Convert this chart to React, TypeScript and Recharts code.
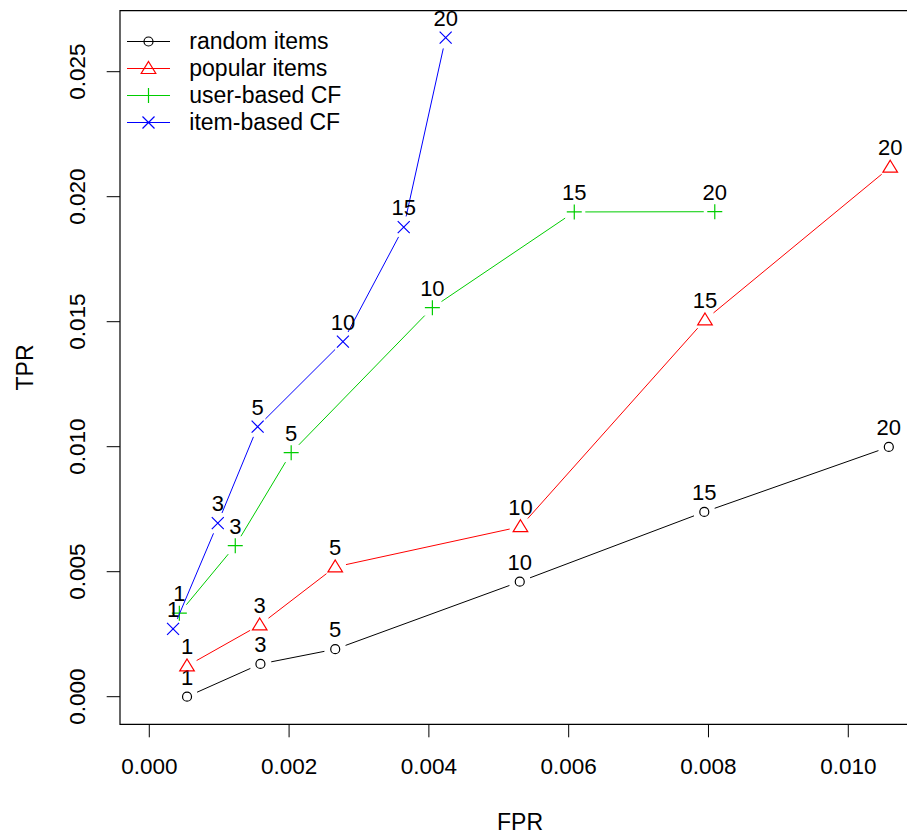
import React from "react";
import { LineChart, Line, XAxis, YAxis, ReferenceArea } from "recharts";

// cutoff n shown above each point
const cutoffs = [1, 3, 5, 10, 15, 20];

const randomFPR = [0.00054, 0.00159, 0.00266, 0.0053, 0.00794, 0.01058];
const randomTPR = [0.0, 0.00131, 0.0019, 0.0046, 0.00739, 0.00999];

const popularFPR = [0.00054, 0.00158, 0.00266, 0.00531, 0.00795, 0.0106];
const popularTPR = [0.00123, 0.00287, 0.00519, 0.0068, 0.01507, 0.02118];

const userFPR = [0.00043, 0.00123, 0.00203, 0.00405, 0.00608, 0.00809];
const userTPR = [0.00334, 0.00604, 0.00976, 0.01556, 0.01939, 0.0194];

const itemFPR = [0.00034, 0.00098, 0.00155, 0.00277, 0.00364, 0.00424];
const itemTPR = [0.00271, 0.00694, 0.0108, 0.0142, 0.01878, 0.02636];

const xTicks = [0, 0.002, 0.004, 0.006, 0.008, 0.01];
const yTicks = [0, 0.005, 0.01, 0.015, 0.02, 0.025];
const xDomain = [-0.000419, 0.011026];
const yDomain = [-0.001104, 0.02744];

const FONT = '"Liberation Sans", Arial, sans-serif';

type Kind = "circle" | "triangle" | "plus" | "cross";

const toRows = (fpr: number[], tpr: number[]) =>
  fpr.map((f, i) => ({ fpr: f, tpr: tpr[i], n: cutoffs[i] }));

const SERIES: { name: string; color: string; kind: Kind; data: any[] }[] = [
  { name: "random items", color: "#000000", kind: "circle", data: toRows(randomFPR, randomTPR) },
  { name: "popular items", color: "#FF0000", kind: "triangle", data: toRows(popularFPR, popularTPR) },
  { name: "user-based CF", color: "#00CD00", kind: "plus", data: toRows(userFPR, userTPR) },
  { name: "item-based CF", color: "#0000FF", kind: "cross", data: toRows(itemFPR, itemTPR) },
];

function Marker({ kind, x, y, color }: { kind: Kind; x: number; y: number; color: string }) {
  const common = { fill: "none", stroke: color, strokeWidth: 1.2 };
  if (kind === "circle") return <circle cx={x} cy={y} r={4.5} {...common} />;
  if (kind === "triangle")
    return <path d={`M${x},${y - 7}L${x + 7.3},${y + 5}L${x - 7.3},${y + 5}Z`} {...common} />;
  if (kind === "plus")
    return <path d={`M${x - 7.5},${y}H${x + 7.5}M${x},${y - 7.5}V${y + 7.5}`} {...common} />;
  return <path d={`M${x - 6},${y - 6}L${x + 6},${y + 6}M${x - 6},${y + 6}L${x + 6},${y - 6}`} {...common} />;
}

// R type="b": segments stop short of each symbol
const GAP = 11;

const makeDot = (color: string, kind: Kind) => (props: any) => {
  const { cx, cy, index, points, payload } = props;
  let seg = null;
  if (points && index < points.length - 1) {
    const q = points[index + 1];
    const dx = q.x - cx;
    const dy = q.y - cy;
    const d = Math.sqrt(dx * dx + dy * dy);
    if (d > 2 * GAP) {
      const k = GAP / d;
      seg = (
        <line
          x1={cx + dx * k}
          y1={cy + dy * k}
          x2={q.x - dx * k}
          y2={q.y - dy * k}
          stroke={color}
          strokeWidth={1}
        />
      );
    }
  }
  return (
    <g key={`dot-${kind}-${index}`}>
      {seg}
      <Marker kind={kind} x={cx} y={cy} color={color} />
      <text
        x={cx}
        y={cy - 12}
        textAnchor="middle"
        fontSize={22}
        fontFamily={FONT}
        fill="#000"
      >
        {payload.n}
      </text>
    </g>
  );
};

const XTick = (props: any) => {
  const { x, y, payload } = props;
  return (
    <text x={x} y={y + 29.4} textAnchor="middle" dominantBaseline="central" fontSize={22.5} fontFamily={FONT} fill="#000">
      {payload.value.toFixed(3)}
    </text>
  );
};

const YTick = (props: any) => {
  const { x, y, payload } = props;
  const tx = x - 28.7;
  return (
    <text
      x={tx}
      y={y}
      transform={`rotate(-90, ${tx}, ${y})`}
      textAnchor="middle"
      dominantBaseline="central"
      fontSize={22.5}
      fontFamily={FONT}
      fill="#000"
    >
      {payload.value.toFixed(3)}
    </text>
  );
};

const XTitle = (props: any) => {
  const vb = props.viewBox || { x: 120, y: 724.3, width: 800, height: 109.7 };
  return (
    <text x={vb.x + vb.width / 2} y={vb.y + 105.5} textAnchor="middle" fontSize={23} fontFamily={FONT} fill="#000">
      FPR
    </text>
  );
};

const YTitle = (props: any) => {
  const vb = props.viewBox || { x: 0, y: 10.7, width: 120, height: 713.6 };
  const tx = vb.x + 25;
  const ty = vb.y + vb.height / 2;
  return (
    <text
      x={tx}
      y={ty}
      transform={`rotate(-90, ${tx}, ${ty})`}
      textAnchor="middle"
      dominantBaseline="central"
      fontSize={23}
      fontFamily={FONT}
      fill="#000"
    >
      TPR
    </text>
  );
};

function LegendBox() {
  return (
    <div style={{ position: "absolute", left: 126.7, top: 28.2, fontFamily: FONT, fontSize: 23, color: "#000" }}>
      {SERIES.map((s) => (
        <div key={s.name} style={{ display: "flex", alignItems: "center", height: 27 }}>
          <svg width={43} height={27} style={{ display: "block" }}>
            <line x1={0} y1={13.5} x2={43} y2={13.5} stroke={s.color} strokeWidth={1.2} />
            <Marker kind={s.kind} x={21.5} y={13.5} color={s.color} />
          </svg>
          <span style={{ marginLeft: 19.6, lineHeight: "27px", whiteSpace: "nowrap" }}>{s.name}</span>
        </div>
      ))}
    </div>
  );
}

export default function App() {
  return (
    <div style={{ position: "absolute", left: 0, top: 0, width: 907, height: 834, overflow: "hidden", background: "#fff" }}>
      <LineChart width={930} height={834} margin={{ top: 10.7, right: 10, bottom: 0, left: 0 }}>
        <XAxis
          type="number"
          dataKey="fpr"
          domain={xDomain}
          ticks={xTicks}
          interval={0}
          height={109.7}
          axisLine={false}
          tickLine={{ stroke: "#000" }}
          tickSize={13}
          tickMargin={0}
          tick={<XTick />}
          allowDataOverflow
          label={<XTitle />}
        />
        <YAxis
          type="number"
          dataKey="tpr"
          domain={yDomain}
          ticks={yTicks}
          interval={0}
          width={120}
          axisLine={false}
          tickLine={{ stroke: "#000" }}
          tickSize={13.3}
          tickMargin={0}
          tick={<YTick />}
          allowDataOverflow
          label={<YTitle />}
        />
        <ReferenceArea
          x1={xDomain[0]}
          x2={xDomain[1]}
          y1={yDomain[0]}
          y2={yDomain[1]}
          fill="none"
          fillOpacity={0}
          stroke="#000"
          strokeWidth={1.2}
          strokeOpacity={1}
        />
        {SERIES.map((s) => (
          <Line
            key={s.name}
            data={s.data}
            dataKey="tpr"
            type="linear"
            stroke="none"
            dot={makeDot(s.color, s.kind)}
            activeDot={false}
            isAnimationActive={false}
          />
        ))}
      </LineChart>
      <LegendBox />
    </div>
  );
}
